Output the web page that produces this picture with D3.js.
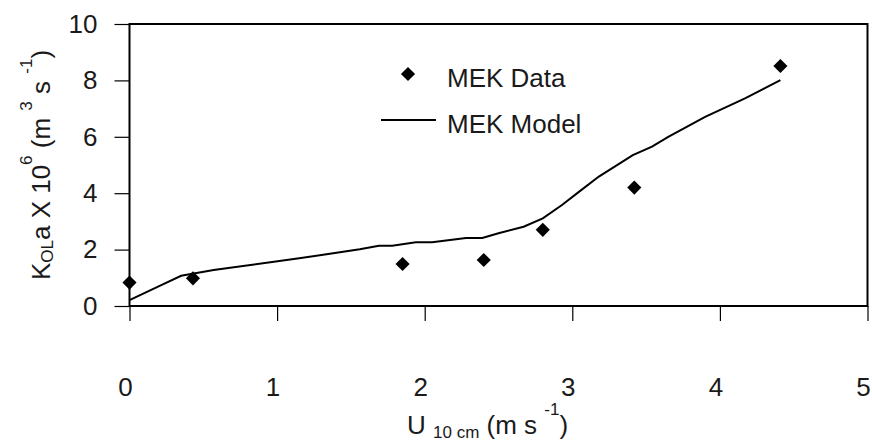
<!DOCTYPE html>
<html>
<head>
<meta charset="utf-8">
<script src="https://cdn.jsdelivr.net/npm/d3@7"></script>
<style>
  html, body { margin: 0; padding: 0; background: #fff; }
  svg { display: block; }
  text { font-family: "Liberation Sans", Arial, sans-serif; fill: #1a1a1a; }
</style>
</head>
<body>
<svg id="chart" width="872" height="444"></svg>
<script>
// Measured MEK mass-transfer data
const dataU = [0.0, 0.43, 1.85, 2.40, 2.80, 3.42, 4.41];
const dataK = [0.83, 0.98, 1.49, 1.63, 2.70, 4.20, 8.51];

// Model curve
const modelU = [0.0, 0.19, 0.35, 0.57, 1.15, 1.56, 1.69, 1.78, 1.94, 2.05, 2.28, 2.39, 2.50, 2.67, 2.80, 2.93, 3.06, 3.18, 3.41, 3.54, 3.65, 3.90, 4.17, 4.41];
const modelK = [0.21, 0.68, 1.07, 1.28, 1.69, 2.01, 2.14, 2.14, 2.26, 2.26, 2.41, 2.41, 2.58, 2.81, 3.11, 3.58, 4.11, 4.59, 5.35, 5.65, 6.00, 6.71, 7.36, 8.01];

const xTicks = [0, 1, 2, 3, 4, 5];
const yTicks = [0, 2, 4, 6, 8, 10];

const svg = d3.select("#chart");
const plotL = 129.5, plotR = 867.5, plotT = 24, plotB = 306;
const FS = 26, SUB = 17;

const x = d3.scaleLinear().domain([0, 5]).range([plotL, plotR]);
const y = d3.scaleLinear().domain([0, 10]).range([plotB, plotT]);

// Plot frame
svg.append("rect")
  .attr("x", plotL).attr("y", plotT)
  .attr("width", plotR - plotL).attr("height", plotB - plotT)
  .attr("fill", "none").attr("stroke", "#000").attr("stroke-width", 2);

// Y axis ticks and labels
const yAxis = d3.axisLeft(y).tickValues(yTicks).tickSize(15).tickPadding(17).tickFormat(d3.format("d"));
const gy = svg.append("g").attr("transform", `translate(${plotL},0)`).call(yAxis);
gy.select(".domain").remove();
gy.selectAll(".tick line").attr("stroke", "#000").attr("stroke-width", 1.2);
gy.selectAll(".tick text").attr("font-size", FS).attr("fill", "#1a1a1a")
  .attr("font-family", "Liberation Sans, Arial, sans-serif");

// X axis ticks
const xAxis = d3.axisBottom(x).tickValues(xTicks).tickSize(15).tickFormat("");
const gx = svg.append("g").attr("transform", `translate(0,${plotB})`).call(xAxis);
gx.select(".domain").remove();
gx.selectAll(".tick line").attr("stroke", "#000").attr("stroke-width", 1.2);

// X tick labels sit well below the axis
svg.append("g").selectAll("text").data(xTicks).join("text")
  .attr("x", d => x(d) - 4)
  .attr("y", 396)
  .attr("text-anchor", "middle")
  .attr("font-size", FS)
  .text(d => d);

// Model line
const line = d3.line().x((d, i) => x(modelU[i])).y((d, i) => y(modelK[i]));
svg.append("path")
  .datum(modelK)
  .attr("d", line)
  .attr("fill", "none")
  .attr("stroke", "#000")
  .attr("stroke-width", 2);

// Data points as diamonds
const diamond = d3.symbol().type(d3.symbolSquare).size(100);
svg.append("g").selectAll("path").data(dataK).join("path")
  .attr("d", diamond)
  .attr("transform", (d, i) => `translate(${x(dataU[i])},${y(d)}) rotate(45)`)
  .attr("fill", "#000");

// Legend
const lg = svg.append("g");
lg.append("path").attr("d", diamond)
  .attr("transform", "translate(408,74) rotate(45)").attr("fill", "#000");
lg.append("text").attr("x", 447).attr("y", 87).attr("font-size", FS).text("MEK Data");
lg.append("line").attr("x1", 381).attr("x2", 436).attr("y1", 120).attr("y2", 120)
  .attr("stroke", "#000").attr("stroke-width", 2);
lg.append("text").attr("x", 447).attr("y", 133).attr("font-size", FS).text("MEK Model");

// Y axis title
const yt = svg.append("text")
  .attr("transform", "translate(50,165) rotate(-90)")
  .attr("text-anchor", "middle")
  .attr("font-size", FS);
yt.append("tspan").text("K");
yt.append("tspan").attr("font-size", SUB).attr("dy", 3).text("OL");
yt.append("tspan").attr("dy", -3).text("a X 10");
yt.append("tspan").attr("font-size", SUB).attr("dy", -18).text("6");
yt.append("tspan").attr("dy", 18).text(" (m ");
yt.append("tspan").attr("font-size", SUB).attr("dy", -18).text("3");
yt.append("tspan").attr("dy", 18).text(" s ");
yt.append("tspan").attr("font-size", SUB).attr("dy", -18).text("-1");
yt.append("tspan").attr("dy", 18).text(")");

// X axis title
const xt = svg.append("text")
  .attr("x", 407).attr("y", 434)
  .attr("font-size", FS);
xt.append("tspan").text("U ");
xt.append("tspan").attr("font-size", SUB).attr("dy", 4).text("10 cm");
xt.append("tspan").attr("dy", -4).text(" (m s ");
xt.append("tspan").attr("font-size", SUB).attr("dy", -19).text("-1");
xt.append("tspan").attr("dy", 19).text(")");
</script>
</body>
</html>
